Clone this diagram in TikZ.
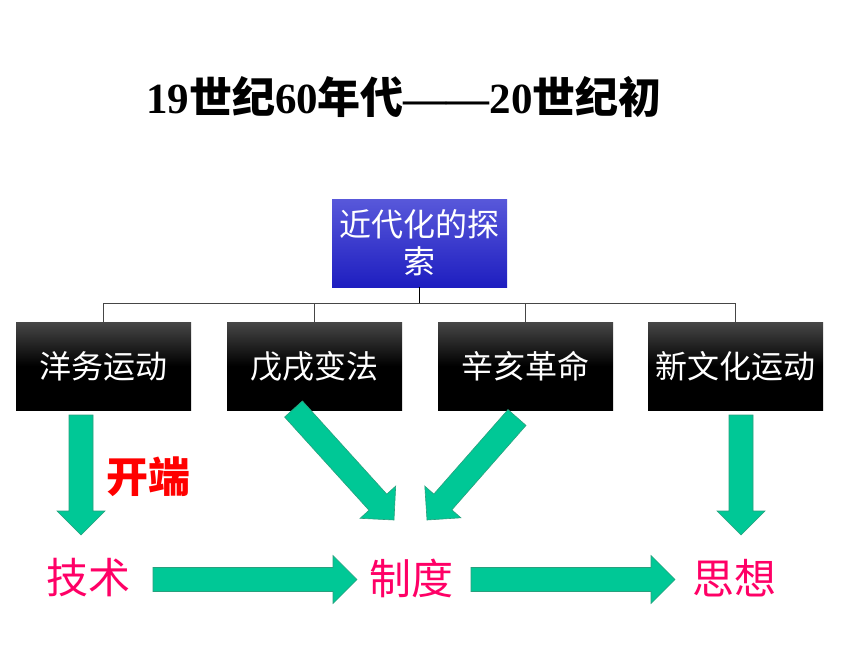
\documentclass[tikz,border=0pt]{standalone}
\usepackage{fontspec}
\setmainfont{Liberation Serif}
\newfontfamily\cjk{Noto Sans CJK SC}
\usetikzlibrary{calc}
\definecolor{arrowgreen}{RGB}{0,200,150}
\definecolor{arrowedge}{RGB}{40,160,125}
\definecolor{labelpink}{RGB}{255,0,102}
\definecolor{topblue}{RGB}{88,88,218}
\definecolor{botblue}{RGB}{30,30,192}
\definecolor{linkgray}{RGB}{70,70,70}
\tikzset{
  orgbox/.style={minimum width=175pt, minimum height=88pt, inner sep=0pt, text=white,
    font=\cjk\fontsize{32}{37}\selectfont},
  blackbox/.style={orgbox, top color=black!72, bottom color=black, middle color=black},
  bluebox/.style={orgbox, top color=topblue, bottom color=botblue, align=center},
  link/.style={draw=linkgray, line width=0.9pt},
  rootlink/.style={draw=black, line width=1.4pt},
  greenarrow/.style={fill=arrowgreen, draw=arrowedge, line width=0.6pt, line join=miter},
  keyword/.style={text=labelpink, font=\cjk\fontsize{42}{48}\selectfont, inner sep=0pt},
  starttag/.style={text=red, font=\cjk\bfseries\fontsize{42}{48}\selectfont, inner sep=0pt},
  titletext/.style={text=black, font=\bfseries\fontsize{43}{48}\selectfont, inner sep=0pt},
}
\newcommand{\blockarrowdraw}[2]{%
  \filldraw[greenarrow]
    ($(#1)!12pt!90:(#2)$) --
    ($($(#2)!24pt!(#1)$)!12pt!90:(#2)$) --
    ($($(#2)!24pt!(#1)$)!24pt!90:(#2)$) --
    (#2) --
    ($($(#2)!24pt!(#1)$)!24pt!-90:(#2)$) --
    ($($(#2)!24pt!(#1)$)!12pt!-90:(#2)$) --
    ($(#1)!12pt!-90:(#2)$) -- cycle;}
\begin{document}
\begin{tikzpicture}[x=1pt,y=-1pt]
\useasboundingbox[fill=white] (0,0) rectangle (860,645);

% title
\node[titletext] (title) at (404,97) {19{\cjk 世纪}60{\cjk 年代}——20{\cjk 世纪初}};

% org chart
\node[bluebox] (root) at (419.5,243) {近代化的探\\索};
\node[blackbox] (b1) at (103.5,366) {洋务运动};
\node[blackbox] (b2) at (314.5,366) {戊戌变法};
\node[blackbox] (b3) at (525.5,366) {辛亥革命};
\node[blackbox] (b4) at (735.5,366) {新文化运动};

\coordinate (bus) at (0,303);
\draw[rootlink] (root.south) -- (root.south |- bus);
\draw[link] (b1.north) -- (b1.north |- bus) -- (b4.north |- bus) -- (b4.north);
\draw[link] (b2.north) -- (b2.north |- bus);
\draw[link] (b3.north) -- (b3.north |- bus);

% keywords
\node[keyword] (tech) at (88,578) {技术};
\node[keyword] (inst) at (411.5,578) {制度};
\node[keyword] (idea) at (734,578) {思想};
\node[starttag] (start) at (148.5,477) {开端};

% block arrows
\coordinate (a1s) at (81,415);    \coordinate (a1t) at (81,535);
\coordinate (a2s) at (293.5,409); \coordinate (a2t) at (394,520);
\coordinate (a3s) at (517,417.5); \coordinate (a3t) at (427,520);
\coordinate (a4s) at (741,415);   \coordinate (a4t) at (741,535);
\coordinate (a5s) at (153,579.5); \coordinate (a5t) at (357,579.5);
\coordinate (a6s) at (471,579.5); \coordinate (a6t) at (675,579.5);
\blockarrowdraw{a1s}{a1t}
\blockarrowdraw{a2s}{a2t}
\blockarrowdraw{a3s}{a3t}
\blockarrowdraw{a4s}{a4t}
\blockarrowdraw{a5s}{a5t}
\blockarrowdraw{a6s}{a6t}
\end{tikzpicture}
\end{document}
